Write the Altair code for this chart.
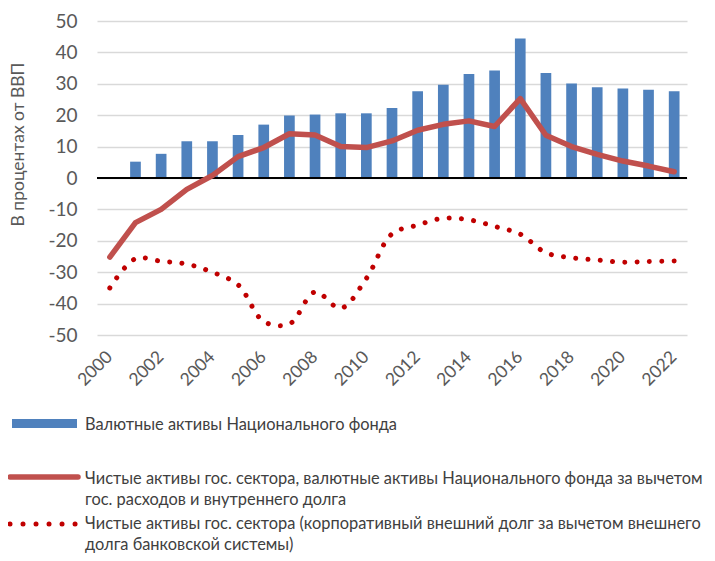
import altair as alt
import pandas as pd

years = list(range(2000, 2023))
fund_assets = [None, 5.2, 7.7, 11.7, 11.7, 13.7, 17.0, 19.9, 20.2, 20.6, 20.6, 22.3,
               27.6, 29.7, 33.1, 34.2, 44.4, 33.4, 30.1, 28.9, 28.5, 28.1, 27.6]
net_fund = [-25.2, -14.2, -10.0, -3.6, 0.8, 6.8, 9.7, 14.1, 13.7, 10.0, 9.7, 11.8,
            15.2, 17.1, 18.2, 16.4, 25.3, 13.6, 10.0, 7.5, 5.4, 3.8, 2.0]
net_public = [-35.0, -25.7, -26.5, -27.4, -30.0, -34.0, -45.7, -46.5, -36.3, -41.5, -32.0, -17.8,
              -15.0, -12.8, -13.3, -15.4, -17.9, -23.8, -25.4, -26.1, -26.8, -26.6, -26.4]
x_tick_years = list(range(2000, 2023, 2))
y_ticks = list(range(-50, 51, 10))
y_title = "В процентах от ВВП"
legend_labels = [
    "Валютные активы Национального фонда",
    "Чистые активы гос. сектора, валютные активы Национального фонда за вычетом\nгос. расходов и внутреннего долга",
    "Чистые активы гос. сектора (корпоративный внешний долг за вычетом внешнего\nдолга банковской системы)",
]

BLUE = "#4f81bd"
RED = "#c0504d"
DOT = "#c00000"
TXT = "#595959"
FONT = "Lato"

df = pd.DataFrame({"year": years, "fund": fund_assets, "net": net_fund, "pub": net_public})
one = pd.DataFrame({"k": [0]})

x_axis = alt.Axis(
    values=x_tick_years, labelAngle=315, labelAlign="right", labelBaseline="middle",
    labelFontSize=17.5, labelFont=FONT, labelColor=TXT, labelPadding=19,
    domain=False, ticks=False, grid=False, title=None, labelOverlap=False,
)
x_scale = alt.Scale(paddingInner=0, paddingOuter=0)
y_scale = alt.Scale(domain=[-50, 50], nice=False)
y_axis = alt.Axis(
    values=y_ticks, tickCount=11, grid=True, gridColor="#d9d9d9", gridWidth=1.5,
    domain=False, ticks=False, tickSize=0,
    labelFontSize=19, labelFont=FONT, labelColor=TXT, labelPadding=20, labelOverlap=False,
    labelExpr="datum.value + ''",
    title=y_title, titleFontSize=17.5, titleFont=FONT, titleColor=TXT, titleFontWeight="normal",
    titleAngle=270, titleX=-79, titleY=123, titleAlign="center", titleBaseline="middle",
)


def X():
    return alt.X("year:O", scale=x_scale, axis=x_axis)


def Y(field):
    return alt.Y(field, scale=y_scale, axis=y_axis)


bars = alt.Chart(df).transform_filter("datum.fund != null").mark_bar(size=10.7, color=BLUE).encode(
    x=X(), y=Y("fund:Q")
)
zero = alt.Chart(one).mark_rule(color="black", strokeWidth=2).encode(y=alt.datum(0, axis=y_axis, scale=y_scale))
net_line = alt.Chart(df).mark_line(color=RED, strokeWidth=5.5, strokeJoin="round", strokeCap="round").encode(
    x=X(), y=Y("net:Q")
)
pub_line = alt.Chart(df).mark_line(
    color=DOT, strokeWidth=5, strokeCap="round", strokeDash=[0.01, 12.3], interpolate="catmull-rom"
).encode(x=X(), y=Y("pub:Q"))

text_style = dict(align="left", baseline="middle", lineBreak="\n", lineHeight=21,
                  fontSize=16.4, font=FONT, color="#404040")
leg_rect = alt.Chart(one).mark_rect(color=BLUE).encode(
    x=alt.value(-85), x2=alt.value(-20), y=alt.value(398), y2=alt.value(407)
)
leg_t1 = alt.Chart(one).mark_text(**text_style).encode(
    x=alt.value(-12), y=alt.value(404), text=alt.value(legend_labels[0])
)
leg_line = alt.Chart(one).mark_rule(color=RED, strokeWidth=5.5, strokeCap="round").encode(
    x=alt.value(-87), x2=alt.value(-19), y=alt.value(456)
)
leg_t2 = alt.Chart(one).mark_text(**text_style).encode(
    x=alt.value(-12), y=alt.value(458), text=alt.value(legend_labels[1])
)
leg_dots = alt.Chart(one).mark_rule(color=DOT, strokeWidth=5, strokeCap="round", strokeDash=[0.01, 13]).encode(
    x=alt.value(-87), x2=alt.value(-21), y=alt.value(503)
)
leg_t3 = alt.Chart(one).mark_text(**text_style).encode(
    x=alt.value(-12), y=alt.value(503), text=alt.value(legend_labels[2])
)

chart = alt.layer(
    bars, zero, net_line, pub_line, leg_rect, leg_t1, leg_line, leg_t2, leg_dots, leg_t3
).properties(
    width=590, height=314,
    autosize=alt.AutoSizeParams(type="none"),
    padding={"left": 89, "top": 13, "right": 20, "bottom": 218},
).configure_view(stroke=None)

chart.save("out.html", embed_options={"renderer": "svg", "actions": False})
